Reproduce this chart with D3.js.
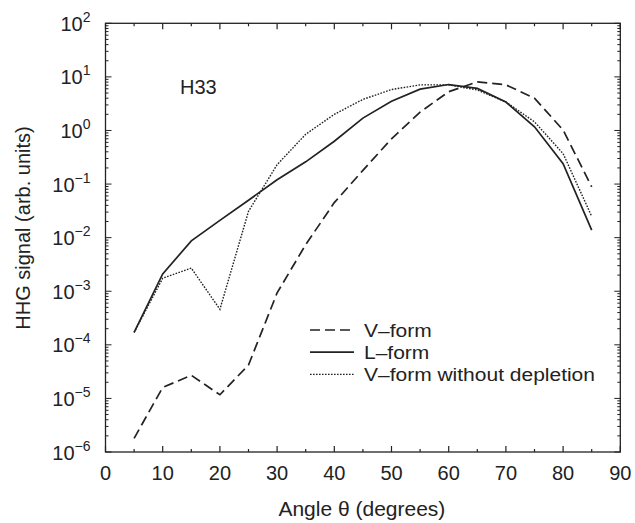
<!DOCTYPE html>
<html>
  <head>
    <meta charset="utf-8">
    <title>HHG signal vs angle</title>
    <script src="https://d3js.org/d3.v7.min.js"></script>
    <style>
      body { margin: 0; background: #fff; }
      text { font-family: "Liberation Sans", Arial, sans-serif; fill: #222; }
    </style>
  </head>
  <body>
  <div id="chart"></div>
  <script>

  // angle (degrees) and signal values
  var angles = [5, 10, 15, 20, 25, 30, 35, 40, 45, 50, 55, 60, 65, 70, 75, 80, 85];
  var vForm = [1.8e-6, 1.6e-5, 2.7e-5, 1.17e-5, 4.2e-5, 9.3e-4, 7.4e-3, 0.045, 0.18, 0.7, 2.2, 5.3, 8.1, 7.1, 4.0, 1.02, 0.089];
  var lForm = [1.7e-4, 2.1e-3, 8.7e-3, 0.021, 0.05, 0.12, 0.26, 0.63, 1.7, 3.5, 5.9, 7.2, 6.1, 3.4, 1.17, 0.24, 0.0138];
  var vNoDep = [1.7e-4, 1.75e-3, 2.7e-3, 4.6e-4, 0.031, 0.23, 0.85, 2.0, 3.8, 5.8, 7.1, 7.1, 5.7, 3.4, 1.45, 0.37, 0.025];
  var seriesNames = ["V\u2013form", "L\u2013form", "V\u2013form without depletion"];
  var xTicks = [0, 10, 20, 30, 40, 50, 60, 70, 80, 90];
  var yExponents = [-6, -5, -4, -3, -2, -1, 0, 1, 2];

  var width = 635, height = 523;
  var m = { left: 105.5, right: 14.7, top: 23.3, bottom: 71 };
  var x0 = m.left, x1 = width - m.right, y0 = height - m.bottom, y1 = m.top;

  var svg = d3.select("#chart").append("svg")
      .attr("width", width)
      .attr("height", height);

  var x = d3.scaleLinear().domain([0, 90]).range([x0, x1]);
  var y = d3.scaleLog().domain([1e-6, 1e2]).range([y0, y1]);

  var ink = "#222";

  // frame
  svg.append("rect")
     .attr("x", x0).attr("y", y1)
     .attr("width", x1 - x0).attr("height", y0 - y1)
     .attr("fill", "none").attr("stroke", ink).attr("stroke-width", 1.3);

  // x ticks (inward, bottom and top)
  var xMinor = d3.range(5, 90, 10);
  function xTickMarks(vals, len){
      svg.append("g").selectAll("line.b").data(vals).enter().append("line")
         .attr("x1", function(d_){ return x(d_); }).attr("x2", function(d_){ return x(d_); })
         .attr("y1", y0).attr("y2", y0 - len)
         .attr("stroke", ink).attr("stroke-width", 1.2);
      svg.append("g").selectAll("line.t").data(vals).enter().append("line")
         .attr("x1", function(d_){ return x(d_); }).attr("x2", function(d_){ return x(d_); })
         .attr("y1", y1).attr("y2", y1 + len)
         .attr("stroke", ink).attr("stroke-width", 1.2);
  }
  xTickMarks(xTicks, 6);
  xTickMarks(xMinor, 3);

  // y ticks (inward, left and right), majors at decades and minors at 2..9
  var yMajor = yExponents.map(function(e_){ return Math.pow(10, e_); });
  var yMinor = y.ticks().filter(function(v_){
      var r = v_ / Math.pow(10, Math.floor(Math.log10(v_) + 1e-9));
      return Math.abs(r - 1) > 1e-6;
  });
  function yTickMarks(vals, len){
      svg.append("g").selectAll("line.l").data(vals).enter().append("line")
         .attr("x1", x0).attr("x2", x0 + len)
         .attr("y1", function(d_){ return y(d_); }).attr("y2", function(d_){ return y(d_); })
         .attr("stroke", ink).attr("stroke-width", 1);
      svg.append("g").selectAll("line.r").data(vals).enter().append("line")
         .attr("x1", x1).attr("x2", x1 - len)
         .attr("y1", function(d_){ return y(d_); }).attr("y2", function(d_){ return y(d_); })
         .attr("stroke", ink).attr("stroke-width", 1);
  }
  yTickMarks(yMajor, 6);
  yTickMarks(yMinor, 3);

  // x tick labels
  svg.append("g").selectAll("text").data(xTicks).enter().append("text")
     .attr("x", function(d_){ return x(d_); })
     .attr("y", y0 + 28)
     .attr("text-anchor", "middle")
     .attr("font-size", 20)
     .text(function(d_){ return d_; });

  // y tick labels 10^n
  var yl = svg.append("g").selectAll("text").data(yExponents).enter().append("text")
     .attr("x", x0 - 15)
     .attr("y", function(d_){ return y(Math.pow(10, d_)) + 7.5; })
     .attr("text-anchor", "end")
     .attr("font-size", 20);
  yl.append("tspan").text("10");
  yl.append("tspan")
    .attr("dy", -9)
    .attr("font-size", 14)
    .text(function(d_){ return d_ < 0 ? "\u2212" + (-d_) : d_; });

  // axis titles
  svg.append("text")
     .attr("x", (x0 + x1) / 2 - 1).attr("y", y0 + 64)
     .attr("text-anchor", "middle").attr("font-size", 21)
     .text("Angle \u03b8 (degrees)");

  svg.append("text")
     .attr("transform", "translate(30,228) rotate(-90)")
     .attr("text-anchor", "middle").attr("font-size", 20)
     .text("HHG signal (arb. units)");

  svg.append("text")
     .attr("x", 180).attr("y", 94)
     .attr("font-size", 20)
     .text("H33");

  // curves
  var styles = [
      { data: vForm, dash: "10,5", w: 1.7 },
      { data: lForm, dash: null, w: 1.7 },
      { data: vNoDep, dash: "1.6,1.4", w: 1.4 }
  ];
  var line = d3.line()
      .x(function(d_){ return x(d_[0]); })
      .y(function(d_){ return y(d_[1]); });

  styles.forEach(function(s_){
      svg.append("path")
         .datum(angles.map(function(a_, i_){ return [a_, s_.data[i_]]; }))
         .attr("d", line)
         .attr("fill", "none")
         .attr("stroke", ink)
         .attr("stroke-width", s_.w)
         .attr("stroke-dasharray", s_.dash);
  });

  // legend
  var lg = svg.append("g").attr("transform", "translate(310,330)");
  styles.forEach(function(s_, i_){
      lg.append("line")
        .attr("x1", 0).attr("x2", 44)
        .attr("y1", i_ * 22.2).attr("y2", i_ * 22.2)
        .attr("stroke", ink)
        .attr("stroke-width", s_.w)
        .attr("stroke-dasharray", s_.dash);
      lg.append("text")
        .attr("transform", "translate(54," + (i_ * 22.2 + 6.5) + ") scale(1,0.88)")
        .attr("font-size", 21)
        .text(seriesNames[i_]);
  });

  </script>
  </body>
</html>
